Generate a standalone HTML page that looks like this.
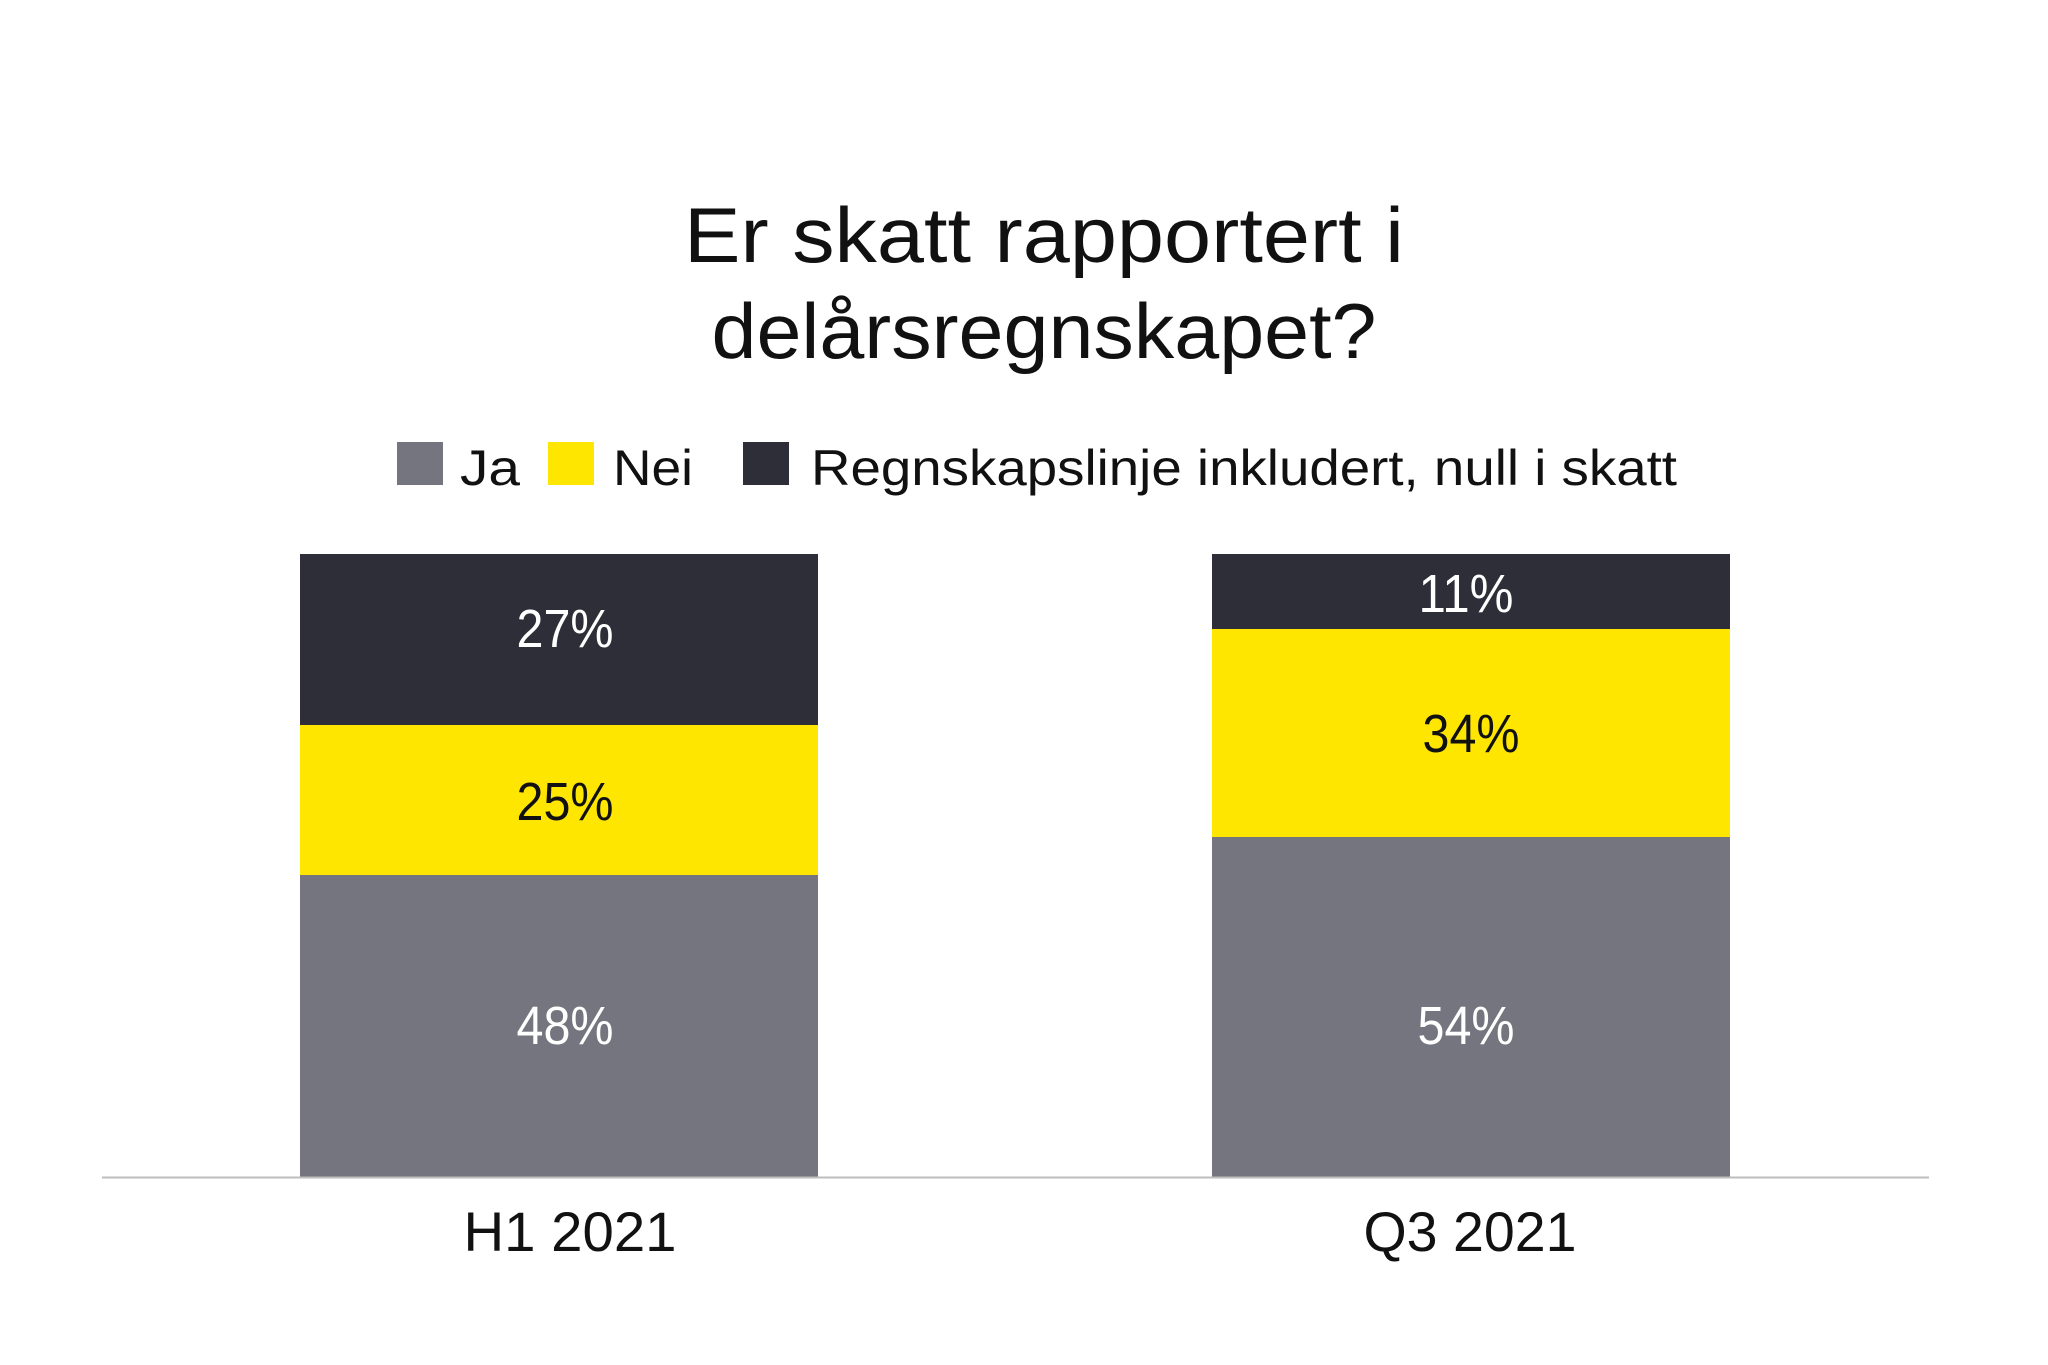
<!DOCTYPE html>
<html><head><meta charset="utf-8"><style>
html,body{margin:0;padding:0;background:#fff;}
svg{display:block}
text{font-family:"Liberation Sans",sans-serif;}
</style></head><body>
<svg width="2048" height="1365" viewBox="0 0 2048 1365" xmlns="http://www.w3.org/2000/svg">
<rect width="2048" height="1365" fill="#fff"/>
<text x="1044" y="262" font-size="78" text-anchor="middle" fill="#111" textLength="720" lengthAdjust="spacingAndGlyphs">Er skatt rapportert i</text>
<text x="1044" y="358" font-size="78" text-anchor="middle" fill="#111" textLength="665" lengthAdjust="spacingAndGlyphs">delårsregnskapet?</text>
<rect x="397" y="442" width="46" height="43" fill="#75757f"/>
<text x="460" y="485" font-size="50" fill="#111" textLength="60" lengthAdjust="spacingAndGlyphs">Ja</text>
<rect x="548" y="442" width="46" height="43" fill="#ffe600"/>
<text x="613" y="485" font-size="50" fill="#111" textLength="80" lengthAdjust="spacingAndGlyphs">Nei</text>
<rect x="743" y="442" width="46" height="43" fill="#2e2e38"/>
<text x="811" y="485" font-size="50" fill="#111" textLength="866" lengthAdjust="spacingAndGlyphs">Regnskapslinje inkludert, null i skatt</text>

<rect x="300" y="554" width="518" height="171" fill="#2e2e38"/>
<rect x="300" y="725" width="518" height="150" fill="#ffe600"/>
<rect x="300" y="875" width="518" height="302" fill="#75757f"/>
<rect x="1212" y="554" width="518" height="75" fill="#2e2e38"/>
<rect x="1212" y="629" width="518" height="208" fill="#ffe600"/>
<rect x="1212" y="837" width="518" height="340" fill="#75757f"/>
<line x1="102" y1="1177.5" x2="1929" y2="1177.5" stroke="#bdbdbd" stroke-width="2"/>

<g font-size="54" text-anchor="middle">
<text x="565" y="647" fill="#fff" textLength="97" lengthAdjust="spacingAndGlyphs">27%</text>
<text x="565" y="820" fill="#111" textLength="97" lengthAdjust="spacingAndGlyphs">25%</text>
<text x="565" y="1044" fill="#fff" textLength="97" lengthAdjust="spacingAndGlyphs">48%</text>
<text x="1466" y="612" fill="#fff" textLength="95" lengthAdjust="spacingAndGlyphs">11%</text>
<text x="1471" y="752" fill="#111" textLength="97" lengthAdjust="spacingAndGlyphs">34%</text>
<text x="1466" y="1044" fill="#fff" textLength="97" lengthAdjust="spacingAndGlyphs">54%</text>
</g>
<g font-size="56" text-anchor="middle" fill="#111">
<text x="570" y="1251" textLength="213" lengthAdjust="spacingAndGlyphs">H1 2021</text>
<text x="1470" y="1251" textLength="213" lengthAdjust="spacingAndGlyphs">Q3 2021</text>
</g>
</svg>
</body></html>
